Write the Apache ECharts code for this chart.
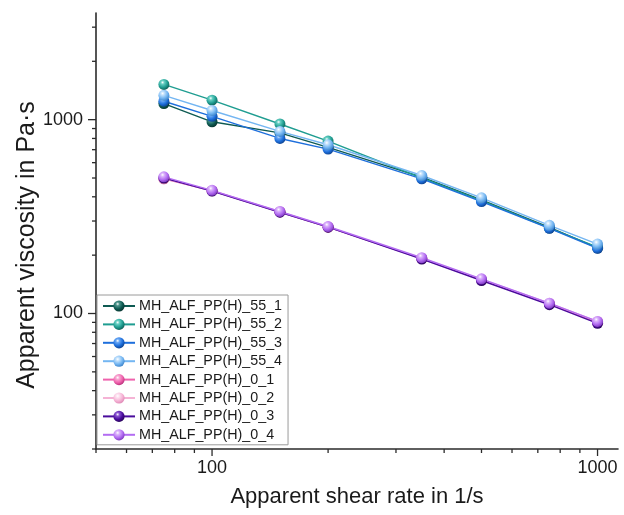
<!DOCTYPE html>
<html><head><meta charset="utf-8">
<script src="https://cdn.jsdelivr.net/npm/echarts@6/dist/echarts.min.js"></script>
<style>html,body{margin:0;padding:0;background:#fff}#c{width:624px;height:515px}</style>
</head><body><div id="c"></div>
<script>
// ---- data ----
const shearRate = [75, 100, 150, 200, 350, 500, 750, 1000];
const seriesNames = ['MH_ALF_PP(H)_55_1','MH_ALF_PP(H)_55_2','MH_ALF_PP(H)_55_3','MH_ALF_PP(H)_55_4',
                     'MH_ALF_PP(H)_0_1','MH_ALF_PP(H)_0_2','MH_ALF_PP(H)_0_3','MH_ALF_PP(H)_0_4'];
const v55_1 = [1210, 975, 855, 720, 505, 385, 278, 218];
const v55_2 = [1520, 1260, 950, 775, 500, 382, 276, 220];
const v55_3 = [1245, 1040, 800, 705, 495, 378, 275, 217];
const v55_4 = [1335, 1115, 870, 742, 515, 395, 285, 228];
const v0_1 = [495, 430, 334, 279, 192, 149, 112, 90];
const v0_2 = [497, 430, 335, 280, 193, 150, 113, 91];
const v0_3 = [500, 428, 333, 279, 191, 148, 111, 89];
const v0_4 = [507, 432, 336, 281, 194, 151, 113, 91];
const allValues = [v55_1, v55_2, v55_3, v55_4, v0_1, v0_2, v0_3, v0_4];
const xMajorTicks = [100, 1000];
const xMinorTicks = [50, 60, 70, 80, 90, 200, 300, 400, 500, 600, 700, 800, 900];
const yMajorTicks = [100, 1000];
const yMinorTicks = [20, 30, 40, 50, 60, 70, 80, 90, 200, 300, 400, 500, 600, 700, 800, 900, 2000, 3000];
const X_MIN = 50, X_MAX = 1130, Y_MIN = 20, Y_MAX = 3550;

// ---- styles ----
const baseColors = ['#0e5a52', '#1f9d91', '#1e6fdc', '#74b6f2', '#ef62ad', '#f5b3d5', '#4a0c9c', '#b36cf2'];
const darkColors = ['#06302b', '#0d5c54', '#0c3f8a', '#3b82c9', '#b52d77', '#dd86b3', '#260454', '#7b36bd'];
const lightColors = ['#4e958c', '#66cfc3', '#6aa8f5', '#c2e1fc', '#f8a8d2', '#fde0ef', '#8a55d2', '#dbb3fb'];

function sphere(i) {
  return {type: 'radial', x: 0.38, y: 0.32, r: 0.72, colorStops: [
    {offset: 0, color: '#ffffff'},
    {offset: 0.22, color: lightColors[i]},
    {offset: 0.62, color: baseColors[i]},
    {offset: 1, color: darkColors[i]}
  ]};
}

const series = seriesNames.map((name, i) => ({
  name: name,
  type: 'line',
  data: shearRate.map((x, k) => [x, allValues[i][k]]),
  symbol: 'circle',
  symbolSize: 11,
  showSymbol: true,
  lineStyle: {color: baseColors[i], width: 1.4},
  itemStyle: {color: sphere(i), borderWidth: 0},
  emphasis: {disabled: true},
  z: 3
}));

// ticks drawn through the axis scales
const tickData = [];
xMajorTicks.forEach(v => tickData.push([0, v, Y_MIN, 7]));
xMinorTicks.forEach(v => tickData.push([0, v, Y_MIN, 4]));
yMajorTicks.forEach(v => tickData.push([1, X_MIN, v, 8]));
yMinorTicks.forEach(v => tickData.push([1, X_MIN, v, 4]));
series.push({
  type: 'custom',
  coordinateSystem: 'cartesian2d',
  silent: true,
  clip: false,
  z: 10,
  encode: {x: 1, y: 2},
  data: tickData,
  renderItem: function (params, api) {
    const kind = api.value(0);
    const p = api.coord([api.value(1), api.value(2)]);
    const len = api.value(3);
    const shape = kind === 0
      ? {x1: p[0], y1: p[1], x2: p[0], y2: p[1] + len}
      : {x1: p[0], y1: p[1], x2: p[0] - len, y2: p[1]};
    return {type: 'line', shape: shape, style: {stroke: '#2b2b2b', lineWidth: 1.3}};
  }
});

function powLabel(v) {
  const l = Math.log10(v);
  return Math.abs(l - Math.round(l)) < 1e-6 ? String(Math.round(v)) : '';
}

const chart = echarts.init(document.getElementById('c'), null, {renderer: 'canvas'});
chart.setOption({
  animation: false,
  backgroundColor: '#ffffff',
  textStyle: {fontFamily: 'Liberation Sans, Arial, sans-serif'},
  grid: {left: 96, right: 6, top: 13, bottom: 66},
  legend: {
    data: seriesNames,
    orient: 'vertical',
    left: 97, top: 295,
    itemWidth: 32, itemHeight: 14, itemGap: 4.4,
    padding: [4, 6, 3, 5],
    borderColor: '#9a9a9a', borderWidth: 1,
    backgroundColor: '#ffffff',
    textStyle: {fontSize: 14.3, color: '#1a1a1a', fontFamily: 'Liberation Sans, Arial, sans-serif', padding: [0, 0, 0, -1]},
    selectedMode: false
  },
  xAxis: {
    type: 'log', logBase: 10, min: X_MIN, max: X_MAX,
    name: 'Apparent shear rate in 1/s', nameLocation: 'middle', nameGap: 37, nameMoveOverlap: false,
    nameTextStyle: {fontSize: 22, color: '#1a1a1a'},
    axisLine: {show: true, lineStyle: {color: '#2b2b2b', width: 1.6}},
    axisTick: {show: false},
    splitLine: {show: false},
    minorTick: {show: false},
    axisLabel: {formatter: powLabel, fontSize: 18, color: '#1a1a1a', margin: 10}
  },
  yAxis: {
    type: 'log', logBase: 10, min: Y_MIN, max: Y_MAX,
    name: 'Apparent viscosity in Pa·s', nameLocation: 'middle', nameGap: 56, nameMoveOverlap: false,
    nameTextStyle: {fontSize: 25, color: '#1a1a1a', padding: [0, 28, 0, 0]},
    axisLine: {show: true, lineStyle: {color: '#2b2b2b', width: 1.6}},
    axisTick: {show: false},
    splitLine: {show: false},
    minorTick: {show: false},
    axisLabel: {formatter: powLabel, fontSize: 18, color: '#1a1a1a', margin: 13}
  },
  series: series
});
</script></body></html>
